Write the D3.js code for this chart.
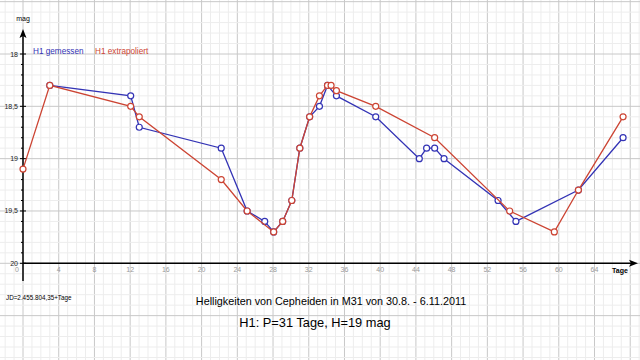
<!DOCTYPE html>
<html>
<head>
<meta charset="utf-8">
<script src="https://cdn.jsdelivr.net/npm/d3@7"></script>
<style>
  body { margin: 0; background: #fff; }
  svg { display: block; font-family: "Liberation Sans", Arial, sans-serif; }
</style>
</head>
<body>
<div id="chart"></div>
<script>
// measured (H1 gemessen) and extrapolated (H1 extrapoliert) light curve
var blueDays = [3.0, 12.06, 13.02, 22.2, 25.1, 27.07, 28.07, 29.08, 30.1, 31.0, 32.1, 33.2, 34.1, 35.1, 39.5, 44.38, 45.2, 46.1, 47.15, 53.2, 55.2, 62.2, 67.2];
var blueMag  = [18.3, 18.4, 18.7, 18.9, 19.5, 19.6, 19.7, 19.6, 19.4, 18.9, 18.6, 18.5, 18.3, 18.4, 18.6, 19.0, 18.9, 18.9, 19.0, 19.4, 19.6, 19.3, 18.8];

var redDays = [0, 3.0, 12.06, 13.02, 22.2, 25.1, 28.07, 29.08, 30.1, 31.0, 32.1, 33.2, 34.1, 34.5, 35.1, 39.5, 46.1, 54.5, 59.5, 62.2, 67.2];
var redMag  = [19.1, 18.3, 18.5, 18.6, 19.2, 19.5, 19.7, 19.6, 19.4, 18.9, 18.6, 18.4, 18.3, 18.3, 18.35, 18.5, 18.8, 19.5, 19.7, 19.3, 18.6];

var xTicks = [0, 4, 8, 12, 16, 20, 24, 28, 32, 36, 40, 44, 48, 52, 56, 60, 64];
var yTicks = [18, 18.5, 19, 19.5, 20];

var width = 640, height = 360;

var svg = d3.select('#chart').append('svg')
    .attr('width', width)
    .attr('height', height);

var x = d3.scaleLinear().domain([0, 64]).range([23, 594.5]);
var y = d3.scaleLinear().domain([18, 20]).range([54, 263.3]);

// grid over the whole picture
var dayMin = Math.floor(x.invert(0)), dayMax = Math.ceil(x.invert(width));
var magMin = Math.floor(y.invert(0) * 10) / 10, magMax = Math.ceil(y.invert(height) * 10) / 10;

var grid = svg.append('g');
grid.selectAll('.vminor')
    .data(d3.range(dayMin, dayMax + 1))
    .enter().append('line')
    .attr('x1', d => x(d)).attr('x2', d => x(d))
    .attr('y1', 0).attr('y2', height)
    .attr('stroke', d => d % 4 === 0 ? '#c8c8c8' : '#ededed')
    .attr('stroke-width', 1);

grid.selectAll('.hminor')
    .data(d3.range(Math.round(magMin * 10), Math.round(magMax * 10) + 1))
    .enter().append('line')
    .attr('x1', 0).attr('x2', width)
    .attr('y1', d => y(d / 10)).attr('y2', d => y(d / 10))
    .attr('stroke', d => d % 5 === 0 ? '#c8c8c8' : '#ededed')
    .attr('stroke-width', 1);

// axes
var axes = svg.append('g').attr('stroke', '#000');
axes.append('line')
    .attr('x1', x(0)).attr('x2', 634)
    .attr('y1', y(20)).attr('y2', y(20))
    .attr('stroke-width', 1.5);
axes.append('path')
    .attr('d', 'M638,' + y(20) + 'l-9,-3.5l2,3.5l-2,3.5z')
    .attr('fill', '#000').attr('stroke', 'none');
axes.append('line')
    .attr('x1', x(0)).attr('x2', x(0))
    .attr('y1', 281).attr('y2', 34)
    .attr('stroke-width', 1.5);
axes.append('path')
    .attr('d', 'M' + x(0) + ',29l-3.5,9l3.5,-2l3.5,2z')
    .attr('fill', '#000').attr('stroke', 'none');

// y axis ticks
axes.selectAll('.ytick')
    .data(d3.range(180, 201))
    .enter().append('line')
    .attr('x1', d => x(0) - (d % 5 === 0 ? 3 : 2))
    .attr('x2', d => x(0) + (d % 5 === 0 ? 3 : 0))
    .attr('y1', d => y(d / 10)).attr('y2', d => y(d / 10))
    .attr('stroke-width', 1);

svg.selectAll('.ylabel')
    .data(yTicks)
    .enter().append('text')
    .attr('x', x(0) - 5)
    .attr('y', d => y(d) + 2.5)
    .attr('text-anchor', 'end')
    .attr('font-size', 7)
    .attr('fill', '#222')
    .text(d => String(d).replace('.', ','));

svg.selectAll('.xlabel')
    .data(xTicks)
    .enter().append('text')
    .attr('x', d => d === 0 ? x(0) - 6 : x(d))
    .attr('y', y(20) + 9)
    .attr('text-anchor', 'middle')
    .attr('font-size', 7)
    .attr('fill', '#999')
    .text(d => d);

svg.append('text').attr('x', x(0)).attr('y', 21)
    .attr('text-anchor', 'middle').attr('font-size', 7).attr('fill', '#000')
    .text('mag');
svg.append('text').attr('x', 620).attr('y', 273)
    .attr('text-anchor', 'middle').attr('font-size', 7).attr('font-weight', 'bold').attr('fill', '#000')
    .text('Tage');

// series
var blueCol = '#3333b5', redCol = '#cc4433';

function drawSeries(days, mags, col) {
    var pts = days.map((d, i) => [d, mags[i]]);
    var line = d3.line().x(d => x(d[0])).y(d => y(d[1]));
    svg.append('path')
        .datum(pts)
        .attr('d', line)
        .attr('fill', 'none')
        .attr('stroke', col)
        .attr('stroke-width', 1.3);
    svg.append('g').selectAll('circle')
        .data(pts)
        .enter().append('circle')
        .attr('cx', d => x(d[0]))
        .attr('cy', d => y(d[1]))
        .attr('r', 3)
        .attr('fill', '#fff')
        .attr('stroke', col)
        .attr('stroke-width', 1.2);
}
drawSeries(blueDays, blueMag, blueCol);
drawSeries(redDays, redMag, redCol);

// legend
svg.append('text').attr('x', 33).attr('y', 54)
    .attr('font-size', 8.2).attr('fill', blueCol).text('H1 gemessen');
svg.append('text').attr('x', 95).attr('y', 54)
    .attr('font-size', 8.2).attr('fill', redCol).text('H1 extrapoliert');

// notes and title
svg.append('text').attr('x', 6).attr('y', 300)
    .attr('font-size', 6.3).attr('fill', '#000').text('JD=2.455.804,35+Tage');
svg.append('text').attr('x', 331).attr('y', 304.5)
    .attr('text-anchor', 'middle').attr('font-size', 10.8).attr('fill', '#000')
    .text('Helligkeiten von Cepheiden in M31 von 30.8. - 6.11.2011');
svg.append('text').attr('x', 315).attr('y', 327)
    .attr('text-anchor', 'middle').attr('font-size', 12.8).attr('fill', '#000')
    .text('H1: P=31 Tage, H=19 mag');
</script>
</body>
</html>
